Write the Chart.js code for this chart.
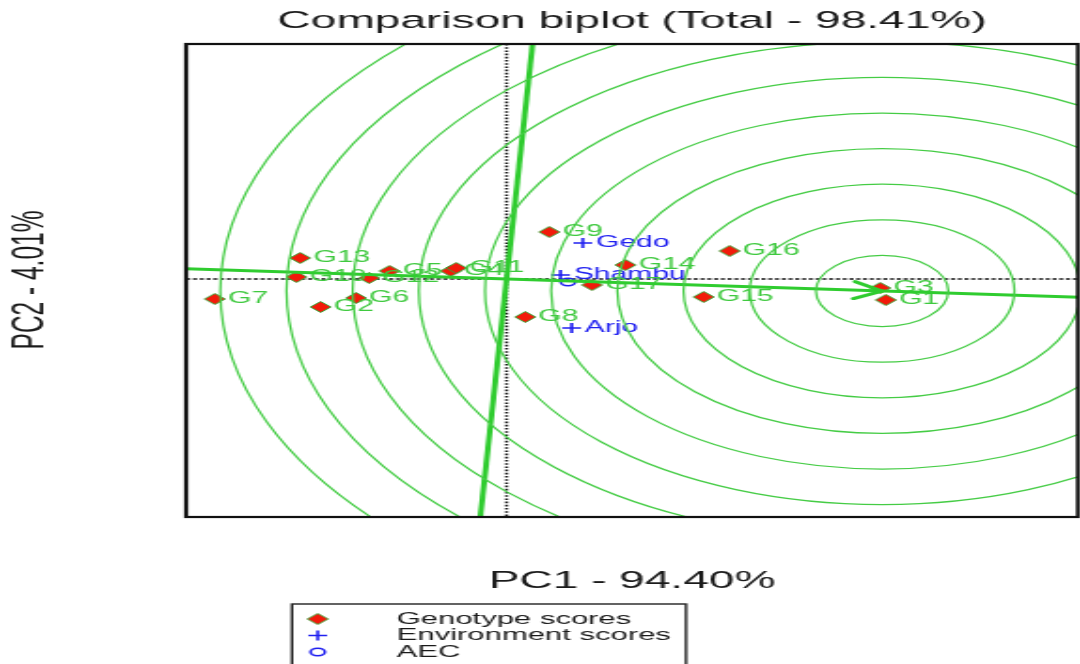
<!DOCTYPE html>
<html>
<head>
<meta charset="utf-8">
<script src="https://cdn.jsdelivr.net/npm/chart.js@4.4.0/dist/chart.umd.min.js"></script>
<style>
  html, body { margin: 0; padding: 0; background: #fff; overflow: hidden; }
  /* the biplot is drawn square (asp = 1) and stretched sideways */
  #wrap { width: 580px; height: 664px; transform: scaleX(1.88); transform-origin: 0 0; }
</style>
</head>
<body>
<div id="wrap"><canvas id="biplot"></canvas></div>
<script>
// ===== scores =====
const genotypes = ['G1', 'G2', 'G3', 'G4', 'G5', 'G6', 'G7', 'G8', 'G9', 'G10', 'G11', 'G12', 'G13', 'G14', 'G15', 'G16', 'G17'];
const genoPC1 = [2.04, -1.00, 2.01, -0.30, -0.63, -0.81, -1.57, 0.10, 0.23, -1.13, -0.27, -0.74, -1.11, 0.64, 1.06, 1.20, 0.46];
const genoPC2 = [-0.21, -0.28, -0.09, 0.08, 0.08, -0.19, -0.20, -0.38, 0.47, 0.02, 0.11, 0.01, 0.21, 0.14, -0.18, 0.28, -0.06];

const environments = ['Gedo', 'Shambu', 'Arjo'];
const envPC1 = [0.41, 0.29, 0.35];
const envPC2 = [0.36, 0.04, -0.49];

// average environment coordinate and the ideal genotype on its axis
const aecPoint = [0.33, -0.03];
const idealPoint = [2.02, -0.12];
const ringStep = 0.356;
const ringCount = 10;

const pc1Range = [-1.724, 3.074];
const pc2Range = [-2.38, 2.35];

const titleText = 'Comparison biplot (Total - 98.41%)';
const xTitle = 'PC1 - 94.40%';
const yTitle = 'PC2 - 4.01%';

// ===== colours =====
const lineGreen = '#2fcc2f';
const ringGreen = '#45cc45';
const labelGreen = '#3fc93f';
const envBlue = '#2020f0';
const FONT = "'Liberation Sans', Arial, sans-serif";

// AEC abscissa through the origin and the ideal point, ordinate perpendicular to it
const aecLen = Math.hypot(idealPoint[0], idealPoint[1]);
const ux = idealPoint[0] / aecLen, uy = idealPoint[1] / aecLen;
const abscissa = [-3, 4].map(t => ({ x: t * ux, y: t * uy }));
const ordinate = [-3, 3].map(t => ({ x: -t * uy, y: t * ux }));

const biplotDecor = {
    id: 'biplotDecor',
    beforeDatasetsDraw(chart) {
        const { ctx, chartArea: a, scales: { x, y } } = chart;
        const x0 = x.getPixelForValue(0), y0 = y.getPixelForValue(0);
        ctx.save();
        ctx.strokeStyle = '#111';
        ctx.lineWidth = 1.6;
        ctx.setLineDash([1.6, 1.6]);
        ctx.beginPath(); ctx.moveTo(x0, a.top); ctx.lineTo(x0, a.bottom); ctx.stroke();
        ctx.lineWidth = 1.4;
        ctx.setLineDash([2.2, 1.4]);
        ctx.beginPath(); ctx.moveTo(a.left, y0); ctx.lineTo(a.right, y0); ctx.stroke();
        ctx.restore();
    },
    afterDatasetDraw(chart, args) {
        const { ctx } = chart;
        let names, color;
        if (args.index === 0) { names = genotypes; color = labelGreen; }
        else if (args.index === 1) { names = environments; color = envBlue; }
        else return;
        ctx.save();
        ctx.font = '16px ' + FONT;
        ctx.fillStyle = color;
        ctx.textBaseline = 'middle';
        args.meta.data.forEach((pt, i) => ctx.fillText(names[i], pt.x + 7, pt.y));
        ctx.restore();
    },
    afterDatasetsDraw(chart) {
        const { ctx, chartArea: a, scales: { x, y } } = chart;
        const cx = x.getPixelForValue(idealPoint[0]), cy = y.getPixelForValue(idealPoint[1]);
        const kx = x.getPixelForValue(1) - x.getPixelForValue(0);
        const ky = y.getPixelForValue(0) - y.getPixelForValue(1);
        ctx.save();
        ctx.beginPath(); ctx.rect(a.left, a.top, a.width, a.height); ctx.clip();
        // concentric rings round the ideal genotype
        ctx.strokeStyle = ringGreen;
        ctx.lineWidth = 1.25;
        for (let n = 1; n <= ringCount; n++) {
            ctx.beginPath();
            ctx.ellipse(cx, cy, n * ringStep * kx, n * ringStep * ky, 0, 0, Math.PI * 2);
            ctx.stroke();
        }
        // arrow head at the ideal point
        const ang = Math.atan2(cy - y.getPixelForValue(0), cx - x.getPixelForValue(0));
        ctx.strokeStyle = lineGreen;
        ctx.lineWidth = 3;
        ctx.lineCap = 'round';
        ctx.beginPath();
        ctx.moveTo(cx - 17 * Math.cos(ang - 0.52), cy - 17 * Math.sin(ang - 0.52));
        ctx.lineTo(cx, cy);
        ctx.lineTo(cx - 17 * Math.cos(ang + 0.52), cy - 17 * Math.sin(ang + 0.52));
        ctx.stroke();
        ctx.restore();

        // plot frame
        ctx.save();
        ctx.strokeStyle = '#111';
        ctx.lineWidth = 2.2;
        ctx.strokeRect(a.left, a.top, a.width, a.height);
        ctx.restore();
    },
    afterDraw(chart) {
        const { ctx, chartArea: a } = chart;
        const mid = (a.left + a.right) / 2;
        ctx.save();
        ctx.fillStyle = '#1a1a1a';
        ctx.font = '24.5px ' + FONT;
        ctx.textAlign = 'center';
        ctx.textBaseline = 'middle';
        ctx.fillText(titleText, mid, 21);
        ctx.fillText(xTitle, mid, 581);
        ctx.save();
        ctx.translate(16.5, 280);
        ctx.rotate(-Math.PI / 2);
        ctx.fillText(yTitle, 0, 0);
        ctx.restore();

        // legend box
        const lx = 155.3, ly = 604;
        ctx.strokeStyle = '#222';
        ctx.lineWidth = 1.4;
        ctx.strokeRect(lx, ly, 209.6, 90);
        ctx.font = '16.5px ' + FONT;
        ctx.textAlign = 'left';
        chart.data.datasets.slice(0, 3).forEach((ds, i) => {
            const ry = 619 + i * 16.5;
            ctx.fillStyle = ds.backgroundColor;
            ctx.strokeStyle = ds.borderColor;
            ctx.lineWidth = ds.borderWidth;
            Chart.helpers.drawPoint(ctx, { pointStyle: ds.pointStyle, radius: ds.pointRadius, rotation: 0, borderWidth: ds.borderWidth }, 169, ry);
            ctx.fillStyle = '#1a1a1a';
            ctx.fillText(ds.label, 211, ry);
        });
        ctx.restore();
    }
};

new Chart(document.getElementById('biplot'), {
    type: 'scatter',
    data: {
        datasets: [{
            label: 'Genotype scores',
            data: genotypes.map((g, i) => ({ x: genoPC1[i], y: genoPC2[i] })),
            pointStyle: 'rectRot',
            pointRadius: 5.5,
            backgroundColor: '#f21a0a',
            borderColor: '#3aa53a',
            borderWidth: 1,
            order: 3
        }, {
            label: 'Environment scores',
            data: environments.map((e, i) => ({ x: envPC1[i], y: envPC2[i] })),
            pointStyle: 'cross',
            pointRadius: 5,
            backgroundColor: envBlue,
            borderColor: envBlue,
            borderWidth: 1.6,
            order: 3
        }, {
            label: 'AEC',
            data: [{ x: aecPoint[0], y: aecPoint[1] }],
            pointStyle: 'circle',
            pointRadius: 3.8,
            backgroundColor: 'rgba(0,0,0,0)',
            borderColor: envBlue,
            borderWidth: 1.5,
            order: 3
        }, {
            label: 'AEC abscissa',
            data: abscissa,
            showLine: true,
            pointRadius: 0,
            borderColor: lineGreen,
            borderWidth: 3,
            order: 1
        }, {
            label: 'AEC ordinate',
            data: ordinate,
            showLine: true,
            pointRadius: 0,
            borderColor: lineGreen,
            borderWidth: 3,
            order: 1
        }]
    },
    options: {
        responsive: true,
        maintainAspectRatio: false,
        animation: false,
        devicePixelRatio: 1,
        events: [],
        layout: { padding: { left: 99, right: 1, top: 44, bottom: 147 } },
        scales: {
            x: { type: 'linear', min: pc1Range[0], max: pc1Range[1], display: false },
            y: { type: 'linear', min: pc2Range[0], max: pc2Range[1], display: false }
        },
        plugins: { legend: { display: false }, tooltip: { enabled: false }, title: { display: false } }
    },
    plugins: [biplotDecor]
});
</script>
</body>
</html>
